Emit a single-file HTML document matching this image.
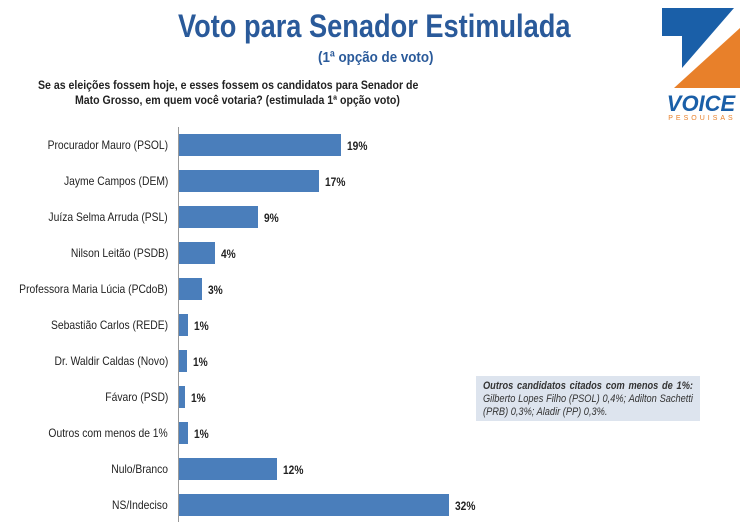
<!DOCTYPE html>
<html><head><meta charset="utf-8"><style>
body{margin:0;width:750px;height:530px;background:#fff;position:relative;font-family:"Liberation Sans",sans-serif;overflow:hidden}
.t{position:absolute;white-space:nowrap}
.bar{position:absolute;left:179px;height:22px;background:#4a7ebb}
.lab{position:absolute;right:582px;font-size:12px;color:#222;white-space:nowrap;transform:scaleX(0.86);transform-origin:right}
.v{position:absolute;font-size:12px;font-weight:bold;color:#222;transform:scaleX(0.85);transform-origin:left}
</style></head><body>
<div class="t" style="left:178px;top:8px;font-size:32px;font-weight:bold;color:#2a5a9a;transform:scaleX(0.85);transform-origin:left">Voto para Senador Estimulada</div>
<div class="t" style="left:318px;top:49px;font-size:15px;font-weight:bold;color:#2a5a9a;transform:scaleX(0.89);transform-origin:left">(1ª opção de voto)</div>
<div class="t" style="left:38px;top:78px;font-size:12px;font-weight:bold;color:#222;line-height:15px;transform:scaleX(0.88);transform-origin:left">Se as eleições fossem hoje, e esses fossem os candidatos para Senador de<br><span style="padding-left:42px">Mato Grosso, em quem você votaria? (estimulada 1ª opção voto)</span></div>
<svg style="position:absolute;left:662px;top:8px" width="80" height="112">
<polygon points="0,0 72,0 20,60 20,28 0,28" fill="#1a5fa8"/>
<polygon points="78,20 78,80 12,80" fill="#e8802a"/>
<text x="39" y="103" text-anchor="middle" font-family="Liberation Sans" font-weight="bold" font-style="italic" font-size="22" fill="#1a5fa8">VOICE</text>
<text x="40" y="112" text-anchor="middle" font-family="Liberation Sans" font-size="7" letter-spacing="3" fill="#e8802a">PESQUISAS</text>
</svg>
<div style="position:absolute;left:178px;top:127px;width:1px;height:395px;background:#999"></div>
<div class="lab" style="top:138px">Procurador Mauro (PSOL)</div><div class="bar" style="top:134px;width:162px"></div><div class="v" style="left:347px;top:139px">19%</div>
<div class="lab" style="top:174px">Jayme Campos (DEM)</div><div class="bar" style="top:170px;width:140px"></div><div class="v" style="left:325px;top:175px">17%</div>
<div class="lab" style="top:210px">Juíza Selma Arruda (PSL)</div><div class="bar" style="top:206px;width:79px"></div><div class="v" style="left:264px;top:211px">9%</div>
<div class="lab" style="top:246px">Nilson Leitão (PSDB)</div><div class="bar" style="top:242px;width:36px"></div><div class="v" style="left:221px;top:247px">4%</div>
<div class="lab" style="top:282px">Professora Maria Lúcia (PCdoB)</div><div class="bar" style="top:278px;width:23px"></div><div class="v" style="left:208px;top:283px">3%</div>
<div class="lab" style="top:318px">Sebastião Carlos (REDE)</div><div class="bar" style="top:314px;width:9px"></div><div class="v" style="left:194px;top:319px">1%</div>
<div class="lab" style="top:354px">Dr. Waldir Caldas (Novo)</div><div class="bar" style="top:350px;width:8px"></div><div class="v" style="left:193px;top:355px">1%</div>
<div class="lab" style="top:390px">Fávaro (PSD)</div><div class="bar" style="top:386px;width:6px"></div><div class="v" style="left:191px;top:391px">1%</div>
<div class="lab" style="top:426px">Outros com menos de 1%</div><div class="bar" style="top:422px;width:9px"></div><div class="v" style="left:194px;top:427px">1%</div>
<div class="lab" style="top:462px">Nulo/Branco</div><div class="bar" style="top:458px;width:98px"></div><div class="v" style="left:283px;top:463px">12%</div>
<div class="lab" style="top:498px">NS/Indeciso</div><div class="bar" style="top:494px;width:270px"></div><div class="v" style="left:455px;top:499px">32%</div>
<div style="position:absolute;left:476px;top:376px;width:224px;height:45px;background:#dde4ee"></div>
<div style="position:absolute;left:483px;top:380px;width:250px;font-size:11px;font-style:italic;color:#333;line-height:13px;text-align:justify;transform:scaleX(0.84);transform-origin:left"><b>Outros candidatos citados com menos de 1%:</b> Gilberto Lopes Filho (PSOL) 0,4%; Adilton Sachetti (PRB) 0,3%; Aladir (PP) 0,3%.</div>
</body></html>
